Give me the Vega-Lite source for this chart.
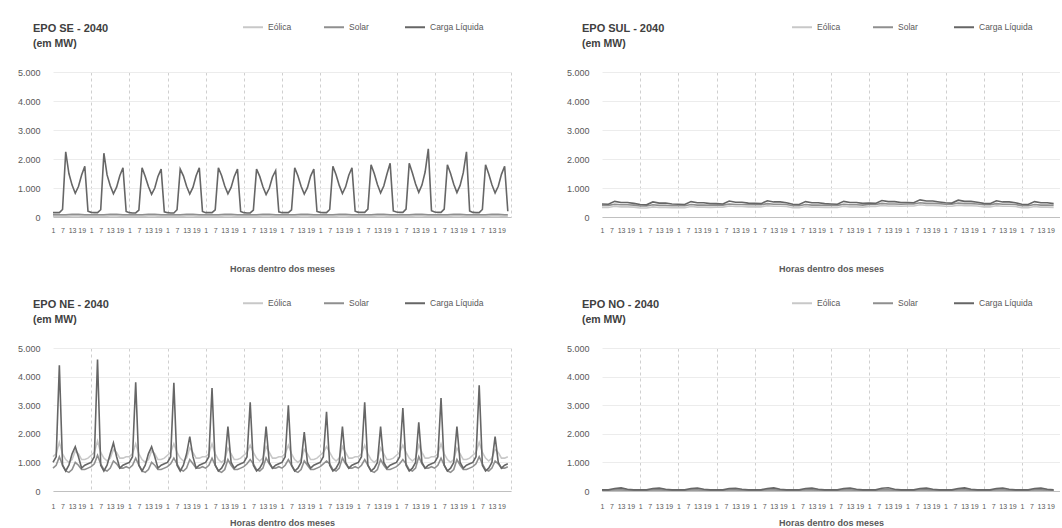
{
"$schema": "https://vega.github.io/schema/vega-lite/v6.json",
"background": "white",
"padding": {"left": 17, "top": 16, "right": 0, "bottom": 0},
"config": {
  "view": {"stroke": null},
  "font": "Liberation Sans",
  "title": {"anchor": "start", "frame": "group", "dx": -20, "fontSize": 11, "fontWeight": "bold", "color": "#404040", "subtitleFontSize": 10.5, "subtitleFontWeight": "bold", "subtitleColor": "#404040", "subtitlePadding": 5, "offset": -33},
  "legend": {"orient": "none", "legendX": 189, "legendY": -56, "direction": "horizontal", "title": null, "symbolType": "stroke", "symbolSize": 400, "symbolStrokeWidth": 2, "labelFontSize": 8.5, "labelColor": "#595959", "gridAlign": "all", "columnPadding": -2}
},
"columns": 2,
"spacing": {"row": 19, "column": 54},
"resolve": {"scale": {"color": "independent"}, "legend": {"color": "independent"}},
"datasets": {
"A": [
{"h":0,"a":30,"b":80,"c":150},{"h":2,"a":30,"b":80,"c":150},{"h":4,"a":30,"b":80,"c":150},{"h":6,"a":30,"b":80,"c":260},{"h":8,"a":30,"b":80,"c":2250},{"h":10,"a":30,"b":85,"c":1500},{"h":12,"a":35,"b":90,"c":1100},{"h":14,"a":35,"b":90,"c":820},{"h":16,"a":35,"b":90,"c":1050},{"h":18,"a":30,"b":85,"c":1450},{"h":20,"a":30,"b":80,"c":1750},{"h":22,"a":30,"b":80,"c":200},
{"h":24,"a":30,"b":80,"c":160},{"h":26,"a":30,"b":80,"c":150},{"h":28,"a":30,"b":80,"c":150},{"h":30,"a":30,"b":80,"c":250},{"h":32,"a":30,"b":80,"c":2200},{"h":34,"a":30,"b":85,"c":1450},{"h":36,"a":35,"b":90,"c":1080},{"h":38,"a":35,"b":90,"c":800},{"h":40,"a":35,"b":90,"c":1030},{"h":42,"a":30,"b":85,"c":1420},{"h":44,"a":30,"b":80,"c":1700},{"h":46,"a":30,"b":80,"c":190},
{"h":48,"a":30,"b":80,"c":150},{"h":50,"a":30,"b":80,"c":140},{"h":52,"a":30,"b":80,"c":140},{"h":54,"a":30,"b":80,"c":240},{"h":56,"a":30,"b":80,"c":1700},{"h":58,"a":30,"b":85,"c":1400},{"h":60,"a":35,"b":90,"c":1050},{"h":62,"a":35,"b":90,"c":780},{"h":64,"a":35,"b":90,"c":1000},{"h":66,"a":30,"b":85,"c":1400},{"h":68,"a":30,"b":80,"c":1650},{"h":70,"a":30,"b":80,"c":180},
{"h":72,"a":30,"b":80,"c":150},{"h":74,"a":30,"b":80,"c":140},{"h":76,"a":30,"b":80,"c":140},{"h":78,"a":30,"b":80,"c":250},{"h":80,"a":30,"b":80,"c":1650},{"h":82,"a":30,"b":85,"c":1420},{"h":84,"a":35,"b":90,"c":1060},{"h":86,"a":35,"b":90,"c":790},{"h":88,"a":35,"b":90,"c":1020},{"h":90,"a":30,"b":85,"c":1420},{"h":92,"a":30,"b":80,"c":1700},{"h":94,"a":30,"b":80,"c":190},
{"h":96,"a":30,"b":80,"c":150},{"h":98,"a":30,"b":80,"c":150},{"h":100,"a":30,"b":80,"c":150},{"h":102,"a":30,"b":80,"c":250},{"h":104,"a":30,"b":80,"c":1700},{"h":106,"a":30,"b":85,"c":1430},{"h":108,"a":35,"b":90,"c":1070},{"h":110,"a":35,"b":90,"c":800},{"h":112,"a":35,"b":90,"c":1020},{"h":114,"a":30,"b":85,"c":1400},{"h":116,"a":30,"b":80,"c":1650},{"h":118,"a":30,"b":80,"c":190},
{"h":120,"a":30,"b":80,"c":150},{"h":122,"a":30,"b":80,"c":140},{"h":124,"a":30,"b":80,"c":140},{"h":126,"a":30,"b":80,"c":240},{"h":128,"a":30,"b":80,"c":1650},{"h":130,"a":30,"b":85,"c":1400},{"h":132,"a":35,"b":90,"c":1040},{"h":134,"a":35,"b":90,"c":770},{"h":136,"a":35,"b":90,"c":990},{"h":138,"a":30,"b":85,"c":1380},{"h":140,"a":30,"b":80,"c":1600},{"h":142,"a":30,"b":80,"c":180},
{"h":144,"a":30,"b":80,"c":150},{"h":146,"a":30,"b":80,"c":150},{"h":148,"a":30,"b":80,"c":150},{"h":150,"a":30,"b":80,"c":250},{"h":152,"a":30,"b":80,"c":1700},{"h":154,"a":30,"b":85,"c":1420},{"h":156,"a":35,"b":90,"c":1060},{"h":158,"a":35,"b":90,"c":790},{"h":160,"a":35,"b":90,"c":1010},{"h":162,"a":30,"b":85,"c":1410},{"h":164,"a":30,"b":80,"c":1650},{"h":166,"a":30,"b":80,"c":190},
{"h":168,"a":30,"b":80,"c":160},{"h":170,"a":30,"b":80,"c":150},{"h":172,"a":30,"b":80,"c":150},{"h":174,"a":30,"b":80,"c":260},{"h":176,"a":30,"b":80,"c":1750},{"h":178,"a":30,"b":85,"c":1460},{"h":180,"a":35,"b":90,"c":1090},{"h":182,"a":35,"b":90,"c":810},{"h":184,"a":35,"b":90,"c":1040},{"h":186,"a":30,"b":85,"c":1440},{"h":188,"a":30,"b":80,"c":1700},{"h":190,"a":30,"b":80,"c":200},
{"h":192,"a":30,"b":80,"c":160},{"h":194,"a":30,"b":80,"c":160},{"h":196,"a":30,"b":80,"c":160},{"h":198,"a":30,"b":80,"c":270},{"h":200,"a":30,"b":80,"c":1800},{"h":202,"a":30,"b":85,"c":1500},{"h":204,"a":35,"b":90,"c":1120},{"h":206,"a":35,"b":90,"c":830},{"h":208,"a":35,"b":90,"c":1070},{"h":210,"a":30,"b":85,"c":1480},{"h":212,"a":30,"b":80,"c":1850},{"h":214,"a":30,"b":80,"c":210},
{"h":216,"a":30,"b":80,"c":170},{"h":218,"a":30,"b":80,"c":160},{"h":220,"a":30,"b":80,"c":160},{"h":222,"a":30,"b":80,"c":270},{"h":224,"a":30,"b":80,"c":1850},{"h":226,"a":30,"b":85,"c":1520},{"h":228,"a":35,"b":90,"c":1140},{"h":230,"a":35,"b":90,"c":850},{"h":232,"a":35,"b":90,"c":1100},{"h":234,"a":30,"b":85,"c":1550},{"h":236,"a":30,"b":80,"c":2350},{"h":238,"a":30,"b":80,"c":220},
{"h":240,"a":30,"b":80,"c":170},{"h":242,"a":30,"b":80,"c":160},{"h":244,"a":30,"b":80,"c":160},{"h":246,"a":30,"b":80,"c":270},{"h":248,"a":30,"b":80,"c":1800},{"h":250,"a":30,"b":85,"c":1500},{"h":252,"a":35,"b":90,"c":1130},{"h":254,"a":35,"b":90,"c":840},{"h":256,"a":35,"b":90,"c":1090},{"h":258,"a":30,"b":85,"c":1530},{"h":260,"a":30,"b":80,"c":2250},{"h":262,"a":30,"b":80,"c":210},
{"h":264,"a":30,"b":80,"c":160},{"h":266,"a":30,"b":80,"c":150},{"h":268,"a":30,"b":80,"c":150},{"h":270,"a":30,"b":80,"c":260},{"h":272,"a":30,"b":80,"c":1800},{"h":274,"a":30,"b":85,"c":1480},{"h":276,"a":35,"b":90,"c":1110},{"h":278,"a":35,"b":90,"c":830},{"h":280,"a":35,"b":90,"c":1060},{"h":282,"a":30,"b":85,"c":1470},{"h":284,"a":30,"b":80,"c":1750},{"h":286,"a":30,"b":80,"c":200}
],
"B": [
{"h":0,"a":330,"b":400,"c":450},{"h":4,"a":330,"b":400,"c":440},{"h":8,"a":370,"b":440,"c":540},{"h":12,"a":350,"b":420,"c":500},{"h":16,"a":350,"b":420,"c":500},{"h":20,"a":340,"b":410,"c":470},
{"h":24,"a":310,"b":380,"c":430},{"h":28,"a":310,"b":380,"c":420},{"h":32,"a":350,"b":420,"c":520},{"h":36,"a":330,"b":400,"c":480},{"h":40,"a":330,"b":400,"c":480},{"h":44,"a":320,"b":390,"c":450},
{"h":48,"a":320,"b":390,"c":440},{"h":52,"a":320,"b":390,"c":430},{"h":56,"a":360,"b":430,"c":530},{"h":60,"a":340,"b":410,"c":490},{"h":64,"a":340,"b":410,"c":490},{"h":68,"a":330,"b":400,"c":460},
{"h":72,"a":340,"b":410,"c":460},{"h":76,"a":340,"b":410,"c":450},{"h":80,"a":380,"b":450,"c":550},{"h":84,"a":360,"b":430,"c":510},{"h":88,"a":360,"b":430,"c":510},{"h":92,"a":350,"b":420,"c":480},
{"h":96,"a":350,"b":420,"c":470},{"h":100,"a":350,"b":420,"c":460},{"h":104,"a":390,"b":460,"c":560},{"h":108,"a":370,"b":440,"c":520},{"h":112,"a":370,"b":440,"c":520},{"h":116,"a":360,"b":430,"c":490},
{"h":120,"a":320,"b":390,"c":440},{"h":124,"a":320,"b":390,"c":430},{"h":128,"a":360,"b":430,"c":530},{"h":132,"a":340,"b":410,"c":490},{"h":136,"a":340,"b":410,"c":490},{"h":140,"a":330,"b":400,"c":460},
{"h":144,"a":330,"b":400,"c":450},{"h":148,"a":330,"b":400,"c":440},{"h":152,"a":370,"b":440,"c":540},{"h":156,"a":350,"b":420,"c":500},{"h":160,"a":350,"b":420,"c":500},{"h":164,"a":340,"b":410,"c":470},
{"h":168,"a":360,"b":430,"c":480},{"h":172,"a":360,"b":430,"c":470},{"h":176,"a":400,"b":470,"c":570},{"h":180,"a":380,"b":450,"c":530},{"h":184,"a":380,"b":450,"c":530},{"h":188,"a":370,"b":440,"c":500},
{"h":192,"a":380,"b":450,"c":500},{"h":196,"a":380,"b":450,"c":490},{"h":200,"a":420,"b":490,"c":590},{"h":204,"a":400,"b":470,"c":550},{"h":208,"a":400,"b":470,"c":550},{"h":212,"a":390,"b":460,"c":520},
{"h":216,"a":370,"b":440,"c":490},{"h":220,"a":370,"b":440,"c":480},{"h":224,"a":410,"b":480,"c":580},{"h":228,"a":390,"b":460,"c":540},{"h":232,"a":390,"b":460,"c":540},{"h":236,"a":380,"b":450,"c":510},
{"h":240,"a":350,"b":420,"c":470},{"h":244,"a":350,"b":420,"c":460},{"h":248,"a":390,"b":460,"c":560},{"h":252,"a":370,"b":440,"c":520},{"h":256,"a":370,"b":440,"c":520},{"h":260,"a":360,"b":430,"c":490},
{"h":264,"a":320,"b":390,"c":440},{"h":268,"a":320,"b":390,"c":430},{"h":272,"a":360,"b":430,"c":530},{"h":276,"a":340,"b":410,"c":490},{"h":280,"a":340,"b":410,"c":490},{"h":284,"a":330,"b":400,"c":460}
],
"C": [
{"h":0,"a":1200,"b":800,"c":1000},{"h":2,"a":1300,"b":900,"c":1200},{"h":4,"a":1700,"b":1200,"c":4400},{"h":6,"a":1300,"b":900,"c":900},{"h":8,"a":1100,"b":700,"c":700},{"h":10,"a":1000,"b":650,"c":900},{"h":12,"a":1100,"b":750,"c":1300},{"h":14,"a":1400,"b":1000,"c":1550},{"h":16,"a":1300,"b":900,"c":1200},{"h":18,"a":1100,"b":750,"c":800},{"h":20,"a":1100,"b":750,"c":900},{"h":22,"a":1150,"b":800,"c":950},
{"h":24,"a":1250,"b":850,"c":1000},{"h":26,"a":1350,"b":950,"c":1200},{"h":28,"a":1750,"b":1250,"c":4600},{"h":30,"a":1350,"b":950,"c":900},{"h":32,"a":1150,"b":750,"c":700},{"h":34,"a":1050,"b":700,"c":900},{"h":36,"a":1150,"b":800,"c":1300},{"h":38,"a":1450,"b":1050,"c":1680},{"h":40,"a":1350,"b":950,"c":1200},{"h":42,"a":1150,"b":800,"c":800},{"h":44,"a":1150,"b":800,"c":900},{"h":46,"a":1200,"b":850,"c":950},
{"h":48,"a":1200,"b":800,"c":1000},{"h":50,"a":1300,"b":900,"c":1200},{"h":52,"a":1650,"b":1150,"c":3800},{"h":54,"a":1300,"b":900,"c":900},{"h":56,"a":1100,"b":700,"c":700},{"h":58,"a":1000,"b":650,"c":900},{"h":60,"a":1100,"b":750,"c":1300},{"h":62,"a":1400,"b":1000,"c":1550},{"h":64,"a":1300,"b":900,"c":1200},{"h":66,"a":1100,"b":750,"c":800},{"h":68,"a":1100,"b":750,"c":900},{"h":70,"a":1150,"b":800,"c":950},
{"h":72,"a":1250,"b":850,"c":1000},{"h":74,"a":1350,"b":950,"c":1200},{"h":76,"a":1650,"b":1150,"c":3780},{"h":78,"a":1350,"b":950,"c":900},{"h":80,"a":1150,"b":750,"c":700},{"h":82,"a":1050,"b":700,"c":900},{"h":84,"a":1150,"b":800,"c":1300},{"h":86,"a":1500,"b":1100,"c":1900},{"h":88,"a":1350,"b":950,"c":1200},{"h":90,"a":1150,"b":800,"c":800},{"h":92,"a":1150,"b":800,"c":900},{"h":94,"a":1200,"b":850,"c":950},
{"h":96,"a":1200,"b":800,"c":1000},{"h":98,"a":1300,"b":900,"c":1200},{"h":100,"a":1650,"b":1150,"c":3600},{"h":102,"a":1300,"b":900,"c":900},{"h":104,"a":1100,"b":700,"c":700},{"h":106,"a":1000,"b":650,"c":800},{"h":108,"a":1100,"b":750,"c":1000},{"h":110,"a":1500,"b":1100,"c":2250},{"h":112,"a":1300,"b":900,"c":1000},{"h":114,"a":1100,"b":750,"c":800},{"h":116,"a":1100,"b":750,"c":900},{"h":118,"a":1150,"b":800,"c":950},
{"h":120,"a":1250,"b":850,"c":1000},{"h":122,"a":1350,"b":950,"c":1200},{"h":124,"a":1600,"b":1100,"c":3100},{"h":126,"a":1350,"b":950,"c":900},{"h":128,"a":1150,"b":750,"c":700},{"h":130,"a":1050,"b":700,"c":800},{"h":132,"a":1150,"b":800,"c":1000},{"h":134,"a":1550,"b":1150,"c":2250},{"h":136,"a":1350,"b":950,"c":1000},{"h":138,"a":1150,"b":800,"c":800},{"h":140,"a":1150,"b":800,"c":900},{"h":142,"a":1200,"b":850,"c":950},
{"h":144,"a":1200,"b":800,"c":1000},{"h":146,"a":1300,"b":900,"c":1200},{"h":148,"a":1600,"b":1100,"c":3000},{"h":150,"a":1300,"b":900,"c":900},{"h":152,"a":1100,"b":700,"c":700},{"h":154,"a":1000,"b":650,"c":800},{"h":156,"a":1100,"b":750,"c":1000},{"h":158,"a":1450,"b":1050,"c":2060},{"h":160,"a":1300,"b":900,"c":1000},{"h":162,"a":1100,"b":750,"c":800},{"h":164,"a":1100,"b":750,"c":900},{"h":166,"a":1150,"b":800,"c":950},
{"h":168,"a":1250,"b":850,"c":1000},{"h":170,"a":1350,"b":950,"c":1200},{"h":172,"a":1550,"b":1050,"c":2770},{"h":174,"a":1350,"b":950,"c":900},{"h":176,"a":1150,"b":750,"c":700},{"h":178,"a":1050,"b":700,"c":800},{"h":180,"a":1150,"b":800,"c":1000},{"h":182,"a":1550,"b":1150,"c":2250},{"h":184,"a":1350,"b":950,"c":1000},{"h":186,"a":1150,"b":800,"c":800},{"h":188,"a":1150,"b":800,"c":900},{"h":190,"a":1200,"b":850,"c":950},
{"h":192,"a":1200,"b":800,"c":1000},{"h":194,"a":1300,"b":900,"c":1200},{"h":196,"a":1600,"b":1100,"c":3100},{"h":198,"a":1300,"b":900,"c":900},{"h":200,"a":1100,"b":700,"c":700},{"h":202,"a":1000,"b":650,"c":800},{"h":204,"a":1100,"b":750,"c":1000},{"h":206,"a":1500,"b":1100,"c":2250},{"h":208,"a":1300,"b":900,"c":1000},{"h":210,"a":1100,"b":750,"c":800},{"h":212,"a":1100,"b":750,"c":900},{"h":214,"a":1150,"b":800,"c":950},
{"h":216,"a":1250,"b":850,"c":1000},{"h":218,"a":1350,"b":950,"c":1200},{"h":220,"a":1600,"b":1100,"c":2900},{"h":222,"a":1350,"b":950,"c":900},{"h":224,"a":1150,"b":750,"c":700},{"h":226,"a":1050,"b":700,"c":800},{"h":228,"a":1150,"b":800,"c":1000},{"h":230,"a":1600,"b":1200,"c":2400},{"h":232,"a":1350,"b":950,"c":1000},{"h":234,"a":1150,"b":800,"c":800},{"h":236,"a":1150,"b":800,"c":900},{"h":238,"a":1200,"b":850,"c":950},
{"h":240,"a":1200,"b":800,"c":1000},{"h":242,"a":1300,"b":900,"c":1200},{"h":244,"a":1650,"b":1150,"c":3250},{"h":246,"a":1300,"b":900,"c":900},{"h":248,"a":1100,"b":700,"c":700},{"h":250,"a":1000,"b":650,"c":800},{"h":252,"a":1100,"b":750,"c":1000},{"h":254,"a":1500,"b":1100,"c":2250},{"h":256,"a":1300,"b":900,"c":1000},{"h":258,"a":1100,"b":750,"c":800},{"h":260,"a":1100,"b":750,"c":900},{"h":262,"a":1150,"b":800,"c":950},
{"h":264,"a":1250,"b":850,"c":1000},{"h":266,"a":1350,"b":950,"c":1200},{"h":268,"a":1700,"b":1200,"c":3700},{"h":270,"a":1350,"b":950,"c":900},{"h":272,"a":1150,"b":750,"c":700},{"h":274,"a":1050,"b":700,"c":800},{"h":276,"a":1150,"b":800,"c":1000},{"h":278,"a":1450,"b":1050,"c":1900},{"h":280,"a":1350,"b":950,"c":1000},{"h":282,"a":1150,"b":800,"c":800},{"h":284,"a":1150,"b":800,"c":900},{"h":286,"a":1200,"b":850,"c":950}
],
"D": [
{"h":0,"a":10,"b":25,"c":40},{"h":4,"a":10,"b":25,"c":40},{"h":8,"a":15,"b":40,"c":90},{"h":12,"a":15,"b":40,"c":110},{"h":16,"a":10,"b":30,"c":60},{"h":20,"a":10,"b":25,"c":40},
{"h":24,"a":10,"b":25,"c":40},{"h":28,"a":10,"b":25,"c":40},{"h":32,"a":15,"b":40,"c":85},{"h":36,"a":15,"b":40,"c":100},{"h":40,"a":10,"b":30,"c":60},{"h":44,"a":10,"b":25,"c":40},
{"h":48,"a":10,"b":25,"c":40},{"h":52,"a":10,"b":25,"c":40},{"h":56,"a":15,"b":40,"c":90},{"h":60,"a":15,"b":40,"c":105},{"h":64,"a":10,"b":30,"c":60},{"h":68,"a":10,"b":25,"c":40},
{"h":72,"a":10,"b":25,"c":40},{"h":76,"a":10,"b":25,"c":40},{"h":80,"a":15,"b":40,"c":85},{"h":84,"a":15,"b":40,"c":95},{"h":88,"a":10,"b":30,"c":60},{"h":92,"a":10,"b":25,"c":40},
{"h":96,"a":10,"b":25,"c":40},{"h":100,"a":10,"b":25,"c":40},{"h":104,"a":15,"b":40,"c":90},{"h":108,"a":15,"b":40,"c":110},{"h":112,"a":10,"b":30,"c":60},{"h":116,"a":10,"b":25,"c":40},
{"h":120,"a":10,"b":25,"c":40},{"h":124,"a":10,"b":25,"c":40},{"h":128,"a":15,"b":40,"c":85},{"h":132,"a":15,"b":40,"c":100},{"h":136,"a":10,"b":30,"c":60},{"h":140,"a":10,"b":25,"c":40},
{"h":144,"a":10,"b":25,"c":40},{"h":148,"a":10,"b":25,"c":40},{"h":152,"a":15,"b":40,"c":90},{"h":156,"a":15,"b":40,"c":105},{"h":160,"a":10,"b":30,"c":60},{"h":164,"a":10,"b":25,"c":40},
{"h":168,"a":10,"b":25,"c":40},{"h":172,"a":10,"b":25,"c":40},{"h":176,"a":15,"b":40,"c":95},{"h":180,"a":15,"b":40,"c":115},{"h":184,"a":10,"b":30,"c":60},{"h":188,"a":10,"b":25,"c":40},
{"h":192,"a":10,"b":25,"c":40},{"h":196,"a":10,"b":25,"c":40},{"h":200,"a":15,"b":40,"c":85},{"h":204,"a":15,"b":40,"c":100},{"h":208,"a":10,"b":30,"c":60},{"h":212,"a":10,"b":25,"c":40},
{"h":216,"a":10,"b":25,"c":40},{"h":220,"a":10,"b":25,"c":40},{"h":224,"a":15,"b":40,"c":90},{"h":228,"a":15,"b":40,"c":110},{"h":232,"a":10,"b":30,"c":60},{"h":236,"a":10,"b":25,"c":40},
{"h":240,"a":10,"b":25,"c":40},{"h":244,"a":10,"b":25,"c":40},{"h":248,"a":15,"b":40,"c":90},{"h":252,"a":15,"b":40,"c":105},{"h":256,"a":10,"b":30,"c":60},{"h":260,"a":10,"b":25,"c":40},
{"h":264,"a":10,"b":25,"c":40},{"h":268,"a":10,"b":25,"c":40},{"h":272,"a":15,"b":40,"c":85},{"h":276,"a":15,"b":40,"c":100},{"h":280,"a":10,"b":30,"c":60},{"h":284,"a":10,"b":25,"c":40}
]
},
"concat": [
{
 "width": 458, "height": 145,
 "title": {"text": "EPO SE - 2040", "subtitle": "(em MW)"},
 "data": {"name": "A"},
 "transform": [{"fold": ["a", "b", "c"], "as": ["serie", "v"]}],
 "mark": {"type": "line", "strokeWidth": 1.6},
 "encoding": {
  "x": {"field": "h", "type": "quantitative", "scale": {"domain": [0, 288], "nice": false, "zero": false},
   "axis": {"values": [0,6,12,18,24,30,36,42,48,54,60,66,72,78,84,90,96,102,108,114,120,126,132,138,144,150,156,162,168,174,180,186,192,198,204,210,216,222,228,234,240,246,252,258,264,270,276,282,288],
    "labelExpr": "datum.value >= 288 ? '' : '' + (datum.value % 24 + 1)", "labelFlush": false, "labelOverlap": false, "labelAngle": 0,
    "labelFontSize": 7, "labelColor": "#595959", "labelPadding": 9, "ticks": false, "domainColor": "#c0c0c0",
    "title": "Horas dentro dos meses", "titleFontSize": 9, "titleFontWeight": "bold", "titleColor": "#595959", "titlePadding": 31,
    "grid": true, "gridDash": [3, 3], "gridColor": "#cfcfcf",
    "gridOpacity": {"condition": {"test": "datum.value % 24 === 0 && datum.value > 0", "value": 1}, "value": 0}}},
  "y": {"field": "v", "type": "quantitative", "scale": {"domain": [0, 5000], "nice": false},
   "axis": {"values": [0,1000,2000,3000,4000,5000], "labelExpr": "replace(format(datum.value, ','), ',', '.')", "title": null, "ticks": false, "domain": false,
    "labelFontSize": 9, "labelColor": "#595959", "labelPadding": 13, "gridColor": "#ececec"}},
  "color": {"field": "serie", "type": "nominal", "scale": {"domain": ["a", "b", "c"], "range": ["#c8c8c8", "#8f8f8f", "#666666"]},
   "legend": {"labelExpr": "datum.label == 'a' ? 'Eólica' : datum.label == 'b' ? 'Solar' : 'Carga Líquida'"}}
 }
},
{
 "width": 458, "height": 145,
 "title": {"text": "EPO SUL - 2040", "subtitle": "(em MW)"},
 "data": {"name": "B"},
 "transform": [{"fold": ["a", "b", "c"], "as": ["serie", "v"]}],
 "mark": {"type": "line", "strokeWidth": 1.6},
 "encoding": {
  "x": {"field": "h", "type": "quantitative", "scale": {"domain": [0, 288], "nice": false, "zero": false},
   "axis": {"values": [0,6,12,18,24,30,36,42,48,54,60,66,72,78,84,90,96,102,108,114,120,126,132,138,144,150,156,162,168,174,180,186,192,198,204,210,216,222,228,234,240,246,252,258,264,270,276,282,288],
    "labelExpr": "datum.value >= 288 ? '' : '' + (datum.value % 24 + 1)", "labelFlush": false, "labelOverlap": false, "labelAngle": 0,
    "labelFontSize": 7, "labelColor": "#595959", "labelPadding": 9, "ticks": false, "domainColor": "#c0c0c0",
    "title": "Horas dentro dos meses", "titleFontSize": 9, "titleFontWeight": "bold", "titleColor": "#595959", "titlePadding": 31,
    "grid": true, "gridDash": [3, 3], "gridColor": "#cfcfcf",
    "gridOpacity": {"condition": {"test": "datum.value % 24 === 0 && datum.value > 0", "value": 1}, "value": 0}}},
  "y": {"field": "v", "type": "quantitative", "scale": {"domain": [0, 5000], "nice": false},
   "axis": {"values": [0,1000,2000,3000,4000,5000], "labelExpr": "replace(format(datum.value, ','), ',', '.')", "title": null, "ticks": false, "domain": false,
    "labelFontSize": 9, "labelColor": "#595959", "labelPadding": 13, "gridColor": "#ececec"}},
  "color": {"field": "serie", "type": "nominal", "scale": {"domain": ["a", "b", "c"], "range": ["#c8c8c8", "#8f8f8f", "#666666"]},
   "legend": {"labelExpr": "datum.label == 'a' ? 'Eólica' : datum.label == 'b' ? 'Solar' : 'Carga Líquida'"}}
 }
},
{
 "width": 458, "height": 143,
 "title": {"text": "EPO NE - 2040", "subtitle": "(em MW)"},
 "data": {"name": "C"},
 "transform": [{"fold": ["a", "b", "c"], "as": ["serie", "v"]}],
 "mark": {"type": "line", "strokeWidth": 1.6},
 "encoding": {
  "x": {"field": "h", "type": "quantitative", "scale": {"domain": [0, 288], "nice": false, "zero": false},
   "axis": {"values": [0,6,12,18,24,30,36,42,48,54,60,66,72,78,84,90,96,102,108,114,120,126,132,138,144,150,156,162,168,174,180,186,192,198,204,210,216,222,228,234,240,246,252,258,264,270,276,282,288],
    "labelExpr": "datum.value >= 288 ? '' : '' + (datum.value % 24 + 1)", "labelFlush": false, "labelOverlap": false, "labelAngle": 0,
    "labelFontSize": 7, "labelColor": "#595959", "labelPadding": 11, "ticks": false, "domainColor": "#c0c0c0",
    "title": "Horas dentro dos meses", "titleFontSize": 9, "titleFontWeight": "bold", "titleColor": "#595959", "titlePadding": 9,
    "grid": true, "gridDash": [3, 3], "gridColor": "#cfcfcf",
    "gridOpacity": {"condition": {"test": "datum.value % 24 === 0 && datum.value > 0", "value": 1}, "value": 0}}},
  "y": {"field": "v", "type": "quantitative", "scale": {"domain": [0, 5000], "nice": false},
   "axis": {"values": [0,1000,2000,3000,4000,5000], "labelExpr": "replace(format(datum.value, ','), ',', '.')", "title": null, "ticks": false, "domain": false,
    "labelFontSize": 9, "labelColor": "#595959", "labelPadding": 13, "gridColor": "#ececec"}},
  "color": {"field": "serie", "type": "nominal", "scale": {"domain": ["a", "b", "c"], "range": ["#c8c8c8", "#8f8f8f", "#666666"]},
   "legend": {"labelExpr": "datum.label == 'a' ? 'Eólica' : datum.label == 'b' ? 'Solar' : 'Carga Líquida'"}}
 }
},
{
 "width": 458, "height": 143,
 "title": {"text": "EPO NO - 2040", "subtitle": "(em MW)"},
 "data": {"name": "D"},
 "transform": [{"fold": ["a", "b", "c"], "as": ["serie", "v"]}],
 "mark": {"type": "line", "strokeWidth": 1.6},
 "encoding": {
  "x": {"field": "h", "type": "quantitative", "scale": {"domain": [0, 288], "nice": false, "zero": false},
   "axis": {"values": [0,6,12,18,24,30,36,42,48,54,60,66,72,78,84,90,96,102,108,114,120,126,132,138,144,150,156,162,168,174,180,186,192,198,204,210,216,222,228,234,240,246,252,258,264,270,276,282,288],
    "labelExpr": "datum.value >= 288 ? '' : '' + (datum.value % 24 + 1)", "labelFlush": false, "labelOverlap": false, "labelAngle": 0,
    "labelFontSize": 7, "labelColor": "#595959", "labelPadding": 11, "ticks": false, "domainColor": "#c0c0c0",
    "title": "Horas dentro dos meses", "titleFontSize": 9, "titleFontWeight": "bold", "titleColor": "#595959", "titlePadding": 9,
    "grid": true, "gridDash": [3, 3], "gridColor": "#cfcfcf",
    "gridOpacity": {"condition": {"test": "datum.value % 24 === 0 && datum.value > 0", "value": 1}, "value": 0}}},
  "y": {"field": "v", "type": "quantitative", "scale": {"domain": [0, 5000], "nice": false},
   "axis": {"values": [0,1000,2000,3000,4000,5000], "labelExpr": "replace(format(datum.value, ','), ',', '.')", "title": null, "ticks": false, "domain": false,
    "labelFontSize": 9, "labelColor": "#595959", "labelPadding": 13, "gridColor": "#ececec"}},
  "color": {"field": "serie", "type": "nominal", "scale": {"domain": ["a", "b", "c"], "range": ["#c8c8c8", "#8f8f8f", "#666666"]},
   "legend": {"labelExpr": "datum.label == 'a' ? 'Eólica' : datum.label == 'b' ? 'Solar' : 'Carga Líquida'"}}
 }
}
]
}
